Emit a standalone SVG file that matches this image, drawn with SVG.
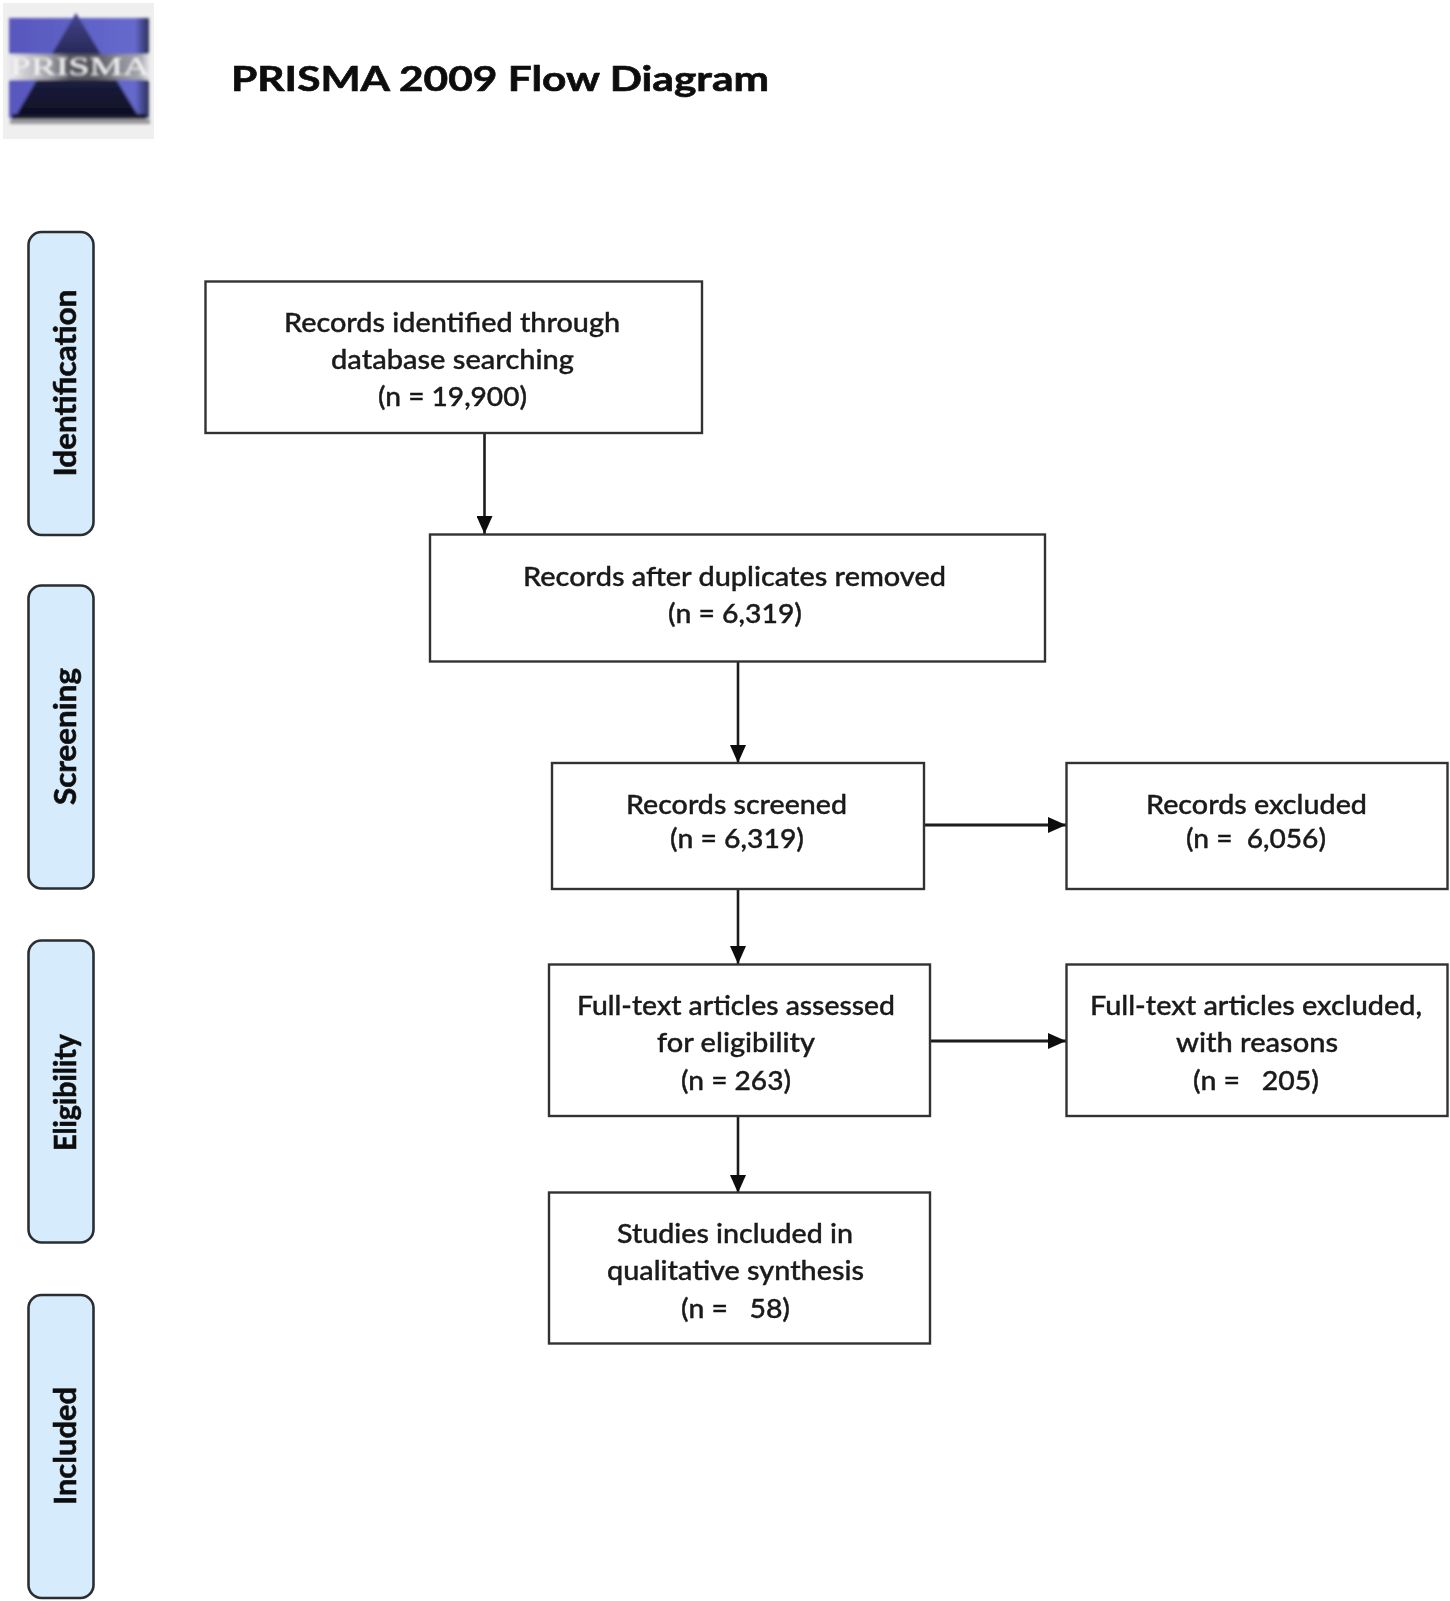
<svg xmlns="http://www.w3.org/2000/svg" width="1450" height="1601" viewBox="0 0 1450 1601">
<style>
text{font-family:Lato,"Liberation Sans",sans-serif;fill:#1a1a1a}
.t{font-size:27.5px;font-weight:500;stroke:#1a1a1a;stroke-width:.4}
.h{font-size:34px;font-weight:700;fill:#0a0a0a;stroke:#0a0a0a;stroke-width:.6}
.s{font-size:31px;font-weight:700;fill:#111;stroke:#111;stroke-width:.6}
.b{fill:#fff;stroke:#333;stroke-width:2.4}
.p{fill:#d6ebfb;stroke:#2a2f33;stroke-width:2.6}
.c{fill:none;stroke:#1c1c1c;stroke-width:2.6;marker-end:url(#a)}
.c2{stroke-width:3.2}
</style>
<defs>
<marker id="a" markerUnits="userSpaceOnUse" markerWidth="18" markerHeight="16" refX="18" refY="8" orient="auto"><path d="M0 0L18 8L0 16z" fill="#111"/></marker>
<filter id="soft" x="-5%" y="-5%" width="110%" height="110%"><feGaussianBlur stdDeviation="0.7"/></filter>
<filter id="logoblur" x="-5%" y="-5%" width="110%" height="110%"><feGaussianBlur stdDeviation="1.4"/></filter>
<linearGradient id="blue" x1="0" y1="0" x2="1" y2="0"><stop offset="0" stop-color="#5757bd"/><stop offset=".9" stop-color="#6669cc"/><stop offset=".97" stop-color="#3b3f78"/><stop offset="1" stop-color="#2e3158"/></linearGradient>
<linearGradient id="tri" x1="0" y1="0" x2="0" y2="1"><stop offset="0" stop-color="#44448e"/><stop offset=".45" stop-color="#23244f"/><stop offset="1" stop-color="#0e0e22"/></linearGradient>
<linearGradient id="band" x1="0" y1="0" x2="1" y2="0"><stop offset="0" stop-color="#f0f0f2"/><stop offset=".3" stop-color="#a0a0a8"/><stop offset=".45" stop-color="#54545e"/><stop offset=".62" stop-color="#585862"/><stop offset=".78" stop-color="#8a8a94"/><stop offset=".93" stop-color="#a8a8b0"/><stop offset="1" stop-color="#f4f4f6"/></linearGradient>
</defs>
<rect width="1450" height="1601" fill="#fff"/>
<g id="logo">
<rect x="3" y="3" width="151" height="136" fill="#efefef"/>
<g filter="url(#logoblur)">
<rect x="10" y="119" width="140" height="5" fill="#9a9a9e"/>
<rect x="9" y="18" width="140" height="100" fill="url(#blue)"/>
<path d="M76 13L15 117H139z" fill="url(#tri)"/>
<rect x="12" y="114" width="134" height="5" fill="#14142c"/>
<rect x="5" y="54" width="146" height="26" fill="url(#band)"/>
<text x="10" y="75" font-size="26" textLength="140" lengthAdjust="spacingAndGlyphs" style="font-family:'Liberation Serif',serif;fill:#f4f4f4">PRISMA</text>
</g>
</g>
<g filter="url(#soft)">
<g id="title"><text class="h" x="231" y="91" textLength="538" lengthAdjust="spacingAndGlyphs">PRISMA 2009 Flow Diagram</text></g>
<g id="connectors">
<path class="c" d="M484.500 433V534"/>
<path class="c" d="M738 662V763"/>
<path class="c" d="M738 889V964"/>
<path class="c" d="M738 1116V1193"/>
<path class="c c2" d="M924 825H1066"/>
<path class="c c2" d="M930 1041H1066"/>
</g>
<g id="phase-identification"><rect class="p" x="28.500" y="232" width="65" height="303" rx="13"/><text class="s" transform="translate(76 476.500) rotate(-90)" textLength="187" lengthAdjust="spacingAndGlyphs">Identification</text></g>
<g id="phase-screening"><rect class="p" x="28.500" y="585.500" width="65" height="303" rx="13"/><text class="s" transform="translate(76 805) rotate(-90)" textLength="137" lengthAdjust="spacingAndGlyphs">Screening</text></g>
<g id="phase-eligibility"><rect class="p" x="28.500" y="940.500" width="65" height="302" rx="13"/><text class="s" transform="translate(76 1151) rotate(-90)" textLength="117" lengthAdjust="spacingAndGlyphs">Eligibility</text></g>
<g id="phase-included"><rect class="p" x="28.500" y="1295" width="65" height="303" rx="13"/><text class="s" transform="translate(76 1505) rotate(-90)" textLength="118" lengthAdjust="spacingAndGlyphs">Included</text></g>
<g id="records-identified"><rect class="b" x="205.500" y="281.500" width="496.500" height="151.500"/>
<text class="t" x="284" y="332" textLength="336" lengthAdjust="spacingAndGlyphs">Records identified through</text>
<text class="t" x="331" y="369" textLength="243" lengthAdjust="spacingAndGlyphs">database searching</text>
<text class="t" x="378" y="406" textLength="149" lengthAdjust="spacingAndGlyphs">(n = 19,900)</text></g>
<g id="after-duplicates"><rect class="b" x="430" y="534.500" width="615" height="127"/>
<text class="t" x="523" y="586" textLength="423" lengthAdjust="spacingAndGlyphs">Records after duplicates removed</text>
<text class="t" x="668" y="623" textLength="134" lengthAdjust="spacingAndGlyphs">(n = 6,319)</text></g>
<g id="records-screened"><rect class="b" x="552" y="763" width="372" height="126"/>
<text class="t" x="626" y="814" textLength="221" lengthAdjust="spacingAndGlyphs">Records screened</text>
<text class="t" x="670" y="848" textLength="134" lengthAdjust="spacingAndGlyphs">(n = 6,319)</text></g>
<g id="records-excluded"><rect class="b" x="1066.500" y="763" width="381" height="126"/>
<text class="t" x="1146" y="814" textLength="221" lengthAdjust="spacingAndGlyphs">Records excluded</text>
<text class="t" xml:space="preserve" x="1186" y="848" textLength="140" lengthAdjust="spacingAndGlyphs">(n =  6,056)</text></g>
<g id="fulltext-assessed"><rect class="b" x="549" y="964.500" width="381" height="151.500"/>
<text class="t" x="577" y="1014.500" textLength="318" lengthAdjust="spacingAndGlyphs">Full-text articles assessed</text>
<text class="t" x="657" y="1051.500" textLength="158" lengthAdjust="spacingAndGlyphs">for eligibility</text>
<text class="t" x="681" y="1089.500" textLength="110" lengthAdjust="spacingAndGlyphs">(n = 263)</text></g>
<g id="fulltext-excluded"><rect class="b" x="1066.500" y="964.500" width="381" height="151.500"/>
<text class="t" x="1090" y="1014.500" textLength="332" lengthAdjust="spacingAndGlyphs">Full-text articles excluded,</text>
<text class="t" x="1176" y="1051.500" textLength="162" lengthAdjust="spacingAndGlyphs">with reasons</text>
<text class="t" xml:space="preserve" x="1193" y="1089.500" textLength="126" lengthAdjust="spacingAndGlyphs">(n =   205)</text></g>
<g id="studies-included"><rect class="b" x="549" y="1192.500" width="381" height="151"/>
<text class="t" x="617" y="1243" textLength="236" lengthAdjust="spacingAndGlyphs">Studies included in</text>
<text class="t" x="607" y="1280" textLength="257" lengthAdjust="spacingAndGlyphs">qualitative synthesis</text>
<text class="t" xml:space="preserve" x="681" y="1317.500" textLength="109" lengthAdjust="spacingAndGlyphs">(n =   58)</text></g>
</g>
</svg>
